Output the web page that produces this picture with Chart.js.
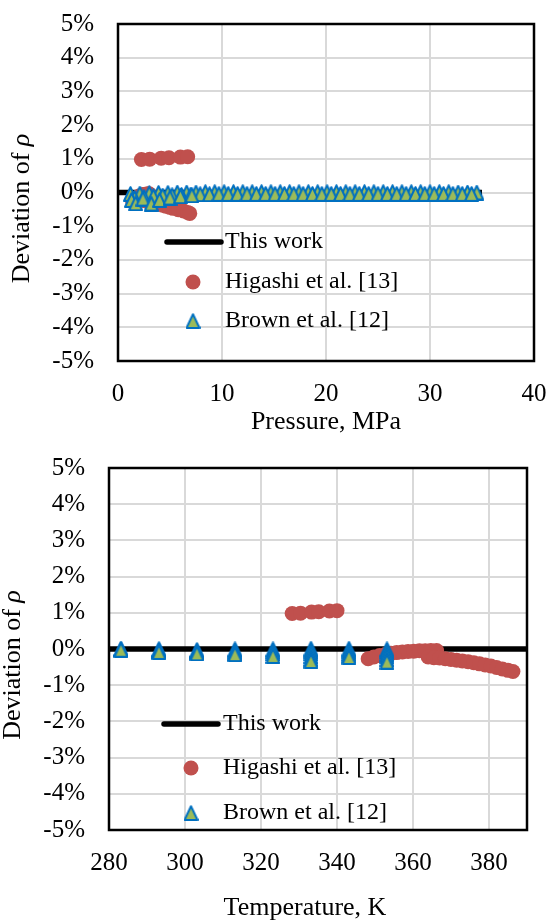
<!DOCTYPE html>
<html>
<head>
<meta charset="utf-8">
<script src="https://cdn.jsdelivr.net/npm/chart.js@4.4.1/dist/chart.umd.min.js"></script>
<style>
  html, body { margin: 0; padding: 0; background: #fff; }
  #wrap { position: relative; width: 548px; height: 920px; }
  canvas { position: absolute; left: 0; }
  #pressureChart { top: 0; }
  #temperatureChart { top: 440px; }
</style>
</head>
<body>
<div id="wrap">
  <canvas id="pressureChart" width="548" height="440"></canvas>
  <canvas id="temperatureChart" width="548" height="480"></canvas>
</div>
<script>
// ==========================
// DATA (deviations in %)
// ==========================
const devTicks = [-5, -4, -3, -2, -1, 0, 1, 2, 3, 4, 5];
const pressureTicks = [0, 10, 20, 30, 40];
const temperatureTicks = [280, 300, 320, 340, 360, 380];

const seriesNames = ["This work", "Higashi et al. [13]", "Brown et al. [12]"];

// This work: the zero line
const thisWorkP = [0, 35];
const thisWorkT = [280, 390];

// Higashi et al. [13]: same points, plotted against T and against P
const higashiT = [
  328.2, 330.4, 333.3, 335.2, 338.0, 340.0,
  348.2, 349.7, 351.2, 352.7, 354.2, 355.7, 357.2, 358.7, 360.2, 361.7, 363.2, 364.7, 366.2,
  364.0, 365.5, 367.0, 368.5, 370.0, 371.5, 373.0, 374.5, 376.0, 377.5, 379.0, 380.5, 382.0, 383.5, 385.0, 386.3
];
const higashiP = [
  2.25, 3.05, 4.15, 4.9, 6.0, 6.7,
  1.4, 1.6, 1.7, 1.9, 2.0, 2.1, 2.3, 2.4, 2.5, 2.6, 2.8, 2.9, 3.0,
  2.3, 2.6, 2.7, 2.9, 3.2, 3.4, 3.7, 3.9, 4.3, 4.6, 5.0, 5.3, 5.8, 6.3, 6.7, 6.9
];
const higashiDev = [
  0.98, 0.99, 1.02, 1.03, 1.05, 1.06,
  -0.27, -0.22, -0.18, -0.15, -0.12, -0.10, -0.08, -0.07, -0.06, -0.05, -0.05, -0.04, -0.04,
  -0.22, -0.24, -0.25, -0.27, -0.29, -0.31, -0.33, -0.35, -0.38, -0.41, -0.44, -0.47, -0.51, -0.55, -0.59, -0.62
];

// Brown et al. [12] against pressure
const brownP = [
  1.2, 2.1, 3.0, 3.9, 4.8, 5.7, 6.6, 7.5, 8.4, 9.3, 10.2, 11.1, 12.0, 12.9, 13.8, 14.7, 15.6, 16.5, 17.4,
  18.3, 19.2, 20.1, 21.0, 21.9, 22.8, 23.7, 24.6, 25.5, 26.4, 27.3, 28.2, 29.1, 30.0, 30.9, 31.8, 32.7, 33.6, 34.5,
  1.6, 2.5, 3.4, 4.3, 5.2, 6.1, 7.0, 7.9, 8.8, 9.7, 10.6, 11.5, 12.4, 13.3, 14.2, 15.1, 16.0, 16.9, 17.8,
  18.7, 19.6, 20.5, 21.4, 22.3, 23.2, 24.1, 25.0, 25.9, 26.8, 27.7, 28.6, 29.5, 30.4, 31.3, 32.2, 33.1, 34.0,
  1.3, 1.7, 2.4, 3.2, 4.0, 5.0, 6.0, 7.1
];
const brownDevP = [
  -0.04, -0.03, -0.02, -0.01, -0.01, 0.0, 0.0, 0.0, 0.01, 0.01, 0.01, 0.01, 0.01, 0.01, 0.01, 0.01, 0.01, 0.01, 0.01,
  0.01, 0.01, 0.01, 0.01, 0.01, 0.01, 0.01, 0.01, 0.01, 0.01, 0.01, 0.01, 0.01, 0.01, 0.01, 0.01, 0.0, 0.0, 0.0,
  -0.16, -0.13, -0.11, -0.09, -0.08, -0.07, -0.06, -0.05, -0.05, -0.04, -0.04, -0.04, -0.04, -0.04, -0.04, -0.04, -0.04, -0.04, -0.04,
  -0.04, -0.04, -0.04, -0.04, -0.04, -0.04, -0.04, -0.04, -0.04, -0.04, -0.04, -0.04, -0.04, -0.04, -0.04, -0.04, -0.04, -0.04,
  -0.22, -0.32, -0.18, -0.33, -0.22, -0.15, -0.11, -0.08
];

// Brown et al. [12] against temperature (isotherms)
const brownT = [
  283.15, 283.15, 283.15,
  293.15, 293.15, 293.15, 293.15,
  303.15, 303.15, 303.15, 303.15,
  313.15, 313.15, 313.15, 313.15,
  323.15, 323.15, 323.15, 323.15,
  333.15, 333.15, 333.15, 333.15, 333.15, 333.15,
  343.15, 343.15, 343.15, 343.15, 343.15,
  353.15, 353.15, 353.15, 353.15, 353.15, 353.15
];
const brownDevT = [
  0.0, -0.01, -0.02,
  -0.01, -0.03, -0.05, -0.08,
  -0.03, -0.06, -0.09, -0.12,
  -0.01, -0.05, -0.10, -0.14,
  -0.01, -0.06, -0.12, -0.19,
  0.01, -0.05, -0.12, -0.20, -0.27, -0.33,
  0.01, -0.05, -0.12, -0.17, -0.22,
  -0.01, -0.06, -0.13, -0.20, -0.28, -0.35
];

// ==========================
// STYLE
// ==========================
const RED = "#C0504D";
const GREEN = "#9BBB59";
const BLUE = "#0070C0";
const GRID = "#D9D9D9";
const FONT = '"Liberation Serif", "Times New Roman", serif';

// green triangle with blue outline, taller than equilateral
function triangleMarker() {
    const c = document.createElement("canvas");
    c.width = 15;
    c.height = 16;
    const g = c.getContext("2d");
    g.beginPath();
    g.moveTo(7.5, 1.2);
    g.lineTo(14, 15);
    g.lineTo(1, 15);
    g.closePath();
    g.fillStyle = GREEN;
    g.fill();
    g.lineWidth = 2;
    g.lineJoin = "round";
    g.strokeStyle = BLUE;
    g.stroke();
    return c;
}
const TRI = triangleMarker();

const toPoints = (xs, ys) => xs.map((x, i) => ({ x, y: ys[i] }));

// no extra room for overhanging tick labels
function noOverhang(s) {
    s.paddingLeft = 0;
    s.paddingRight = 0;
    s.paddingTop = 0;
    s.paddingBottom = 0;
}

// ==========================
// PLUGINS
// ==========================
// black box round the plot area
const frame = {
    id: "frame",
    beforeDatasetsDraw(chart) {
        const { ctx, chartArea: a } = chart;
        ctx.save();
        ctx.strokeStyle = "#000";
        ctx.lineWidth = 2.5;
        ctx.strokeRect(a.left, a.top, a.right - a.left, a.bottom - a.top);
        ctx.restore();
    }
};

// axis titles; the y title has an italic rho
const axisTitles = {
    id: "axisTitles",
    afterDraw(chart, args, o) {
        const { ctx, chartArea: a } = chart;
        ctx.save();
        ctx.fillStyle = "#000";
        ctx.font = "26px " + FONT;
        ctx.textAlign = "center";
        ctx.textBaseline = "alphabetic";
        ctx.fillText(o.x, (a.left + a.right) / 2 + o.xShift, a.bottom + o.xDrop);

        const head = "Deviation of ";
        const sym = "ρ";
        ctx.translate(a.left + o.yLeft, (a.top + a.bottom) / 2 + o.yShift);
        ctx.rotate(-Math.PI / 2);
        ctx.textAlign = "left";
        ctx.textBaseline = "middle";
        const w1 = ctx.measureText(head).width;
        ctx.font = "italic 26px " + FONT;
        const w2 = ctx.measureText(sym).width;
        const x0 = -(w1 + w2) / 2;
        ctx.font = "26px " + FONT;
        ctx.fillText(head, x0, 0);
        ctx.font = "italic 26px " + FONT;
        ctx.fillText(sym, x0 + w1, 0);
        ctx.restore();
    }
};

// legend drawn inside the plot area
const keyBox = {
    id: "keyBox",
    afterDatasetsDraw(chart, args, o) {
        const { ctx, chartArea: a } = chart;
        const ys = o.rows.map(r => a.top + r);
        ctx.save();
        ctx.strokeStyle = "#000";
        ctx.lineWidth = 5.5;
        ctx.lineCap = "round";
        ctx.beginPath();
        ctx.moveTo(a.left + o.lineFrom, ys[0]);
        ctx.lineTo(a.left + o.lineTo, ys[0]);
        ctx.stroke();

        ctx.fillStyle = RED;
        ctx.beginPath();
        ctx.arc(a.left + o.marker, ys[1], 7.5, 0, Math.PI * 2);
        ctx.fill();

        ctx.drawImage(TRI, a.left + o.marker - TRI.width / 2, ys[2] - TRI.height / 2);

        ctx.fillStyle = "#000";
        ctx.font = "24px " + FONT;
        ctx.textBaseline = "middle";
        ctx.textAlign = "left";
        chart.data.datasets.forEach((d, i) => ctx.fillText(d.label, a.left + o.text, ys[i]));
        ctx.restore();
    }
};

// ==========================
// BUILD
// ==========================
function buildChart(canvasId, c) {
    return new Chart(document.getElementById(canvasId), {
        type: "scatter",
        data: {
            datasets: [
                {
                    label: seriesNames[0],
                    data: c.line,
                    showLine: true,
                    pointRadius: 0,
                    borderColor: "#000",
                    borderWidth: 5.5,
                    order: 3
                },
                {
                    label: seriesNames[1],
                    data: c.higashi,
                    pointStyle: "circle",
                    pointRadius: 7.5,
                    pointBorderWidth: 0,
                    backgroundColor: RED,
                    borderColor: RED,
                    order: 2
                },
                {
                    label: seriesNames[2],
                    data: c.brown,
                    pointStyle: TRI,
                    order: 1
                }
            ]
        },
        options: {
            responsive: false,
            animation: false,
            events: [],
            layout: { padding: { top: c.top, right: c.right, left: 0, bottom: 0 } },
            plugins: {
                legend: { display: false },
                tooltip: { enabled: false },
                axisTitles: c.titles,
                keyBox: c.key
            },
            scales: {
                x: {
                    type: "linear",
                    min: c.xMin,
                    max: c.xMax,
                    afterBuildTicks: s => { s.ticks = c.xTicks.map(v => ({ value: v })); },
                    afterFit: s => { s.height = c.xHeight; noOverhang(s); },
                    grid: { color: GRID, lineWidth: 2, drawTicks: false },
                    border: { display: false },
                    ticks: {
                        color: "#000",
                        font: { family: FONT, size: 25 },
                        padding: 18,
                        maxRotation: 0,
                        autoSkip: false
                    }
                },
                y: {
                    type: "linear",
                    min: -5,
                    max: 5,
                    afterBuildTicks: s => { s.ticks = devTicks.map(v => ({ value: v })); },
                    afterFit: s => { s.width = c.yWidth; noOverhang(s); },
                    grid: { color: GRID, lineWidth: 2, drawTicks: false },
                    border: { display: false },
                    ticks: {
                        color: "#000",
                        font: { family: FONT, size: 25 },
                        padding: 24,
                        autoSkip: false,
                        callback: v => v + "%"
                    }
                }
            }
        },
        plugins: [frame, axisTitles, keyBox]
    });
}

buildChart("pressureChart", {
    line: toPoints(thisWorkP, [0, 0]),
    higashi: toPoints(higashiP, higashiDev),
    brown: toPoints(brownP, brownDevP),
    xMin: 0, xMax: 40, xTicks: pressureTicks,
    top: 24, right: 14, yWidth: 118, xHeight: 79,
    titles: { x: "Pressure, MPa", xShift: 0, xDrop: 68, yLeft: -96, yShift: 16 },
    key: { lineFrom: 49, lineTo: 103, marker: 75, text: 107, rows: [218, 258, 297] }
});

buildChart("temperatureChart", {
    line: toPoints(thisWorkT, [0, 0]),
    higashi: toPoints(higashiT, higashiDev),
    brown: toPoints(brownT, brownDevT),
    xMin: 280, xMax: 390, xTicks: temperatureTicks,
    top: 28, right: 21, yWidth: 109, xHeight: 90,
    titles: { x: "Temperature, K", xShift: -13, xDrop: 85, yLeft: -96, yShift: 16 },
    key: { lineFrom: 55, lineTo: 109, marker: 82, text: 114, rows: [256, 300, 345] }
});
</script>
</body>
</html>
